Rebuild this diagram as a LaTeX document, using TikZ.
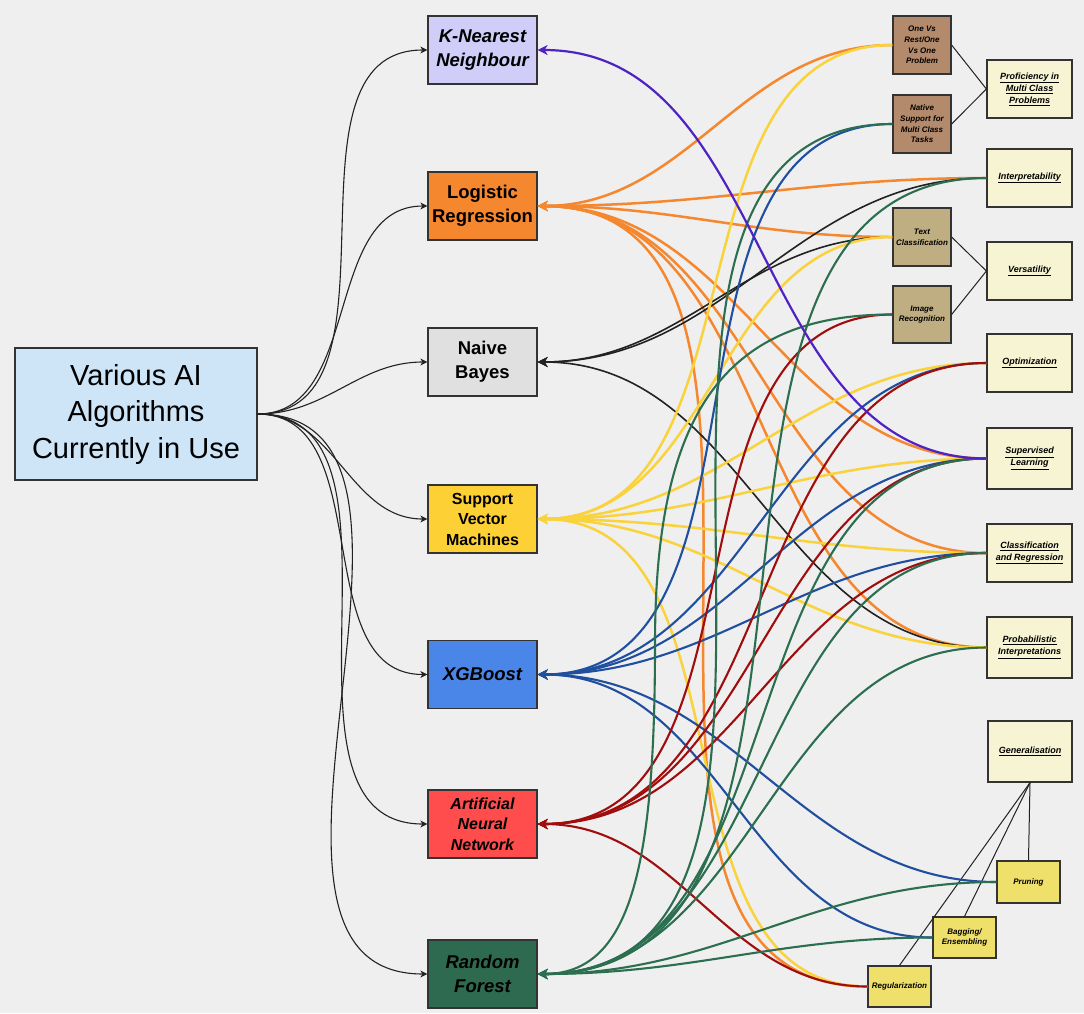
\documentclass[tikz,border=0pt]{standalone}
\usepackage{fontspec}
\setmainfont{Liberation Sans}
\usetikzlibrary{arrows.meta}
\definecolor{bgc}{HTML}{EFEFEF}
\definecolor{boxline}{HTML}{333333}
\definecolor{mainfill}{HTML}{CDE5F7}
\definecolor{knnfill}{HTML}{D0CEF9}
\definecolor{lrfill}{HTML}{F5872F}
\definecolor{nbfill}{HTML}{E0E0E0}
\definecolor{svmfill}{HTML}{FDD035}
\definecolor{xgbfill}{HTML}{4A86E8}
\definecolor{annfill}{HTML}{FF4D4D}
\definecolor{rffill}{HTML}{2E6A4F}
\definecolor{brownfill}{HTML}{B38A6B}
\definecolor{khakifill}{HTML}{BFAE82}
\definecolor{creamfill}{HTML}{F6F4D2}
\definecolor{smallyellow}{HTML}{EFE06C}
\definecolor{cpurple}{HTML}{4F22C4}
\definecolor{corange}{HTML}{F5872F}
\definecolor{cblack}{HTML}{222222}
\definecolor{cyellow}{HTML}{F9D23C}
\definecolor{cblue}{HTML}{214FA0}
\definecolor{cred}{HTML}{A00D0D}
\definecolor{cgreen}{HTML}{2B6E50}
\newcommand{\ulx}[1]{\underline{#1}}
\begin{document}
\begin{tikzpicture}[x=1pt,y=-1pt,
  box/.style={draw=boxline, line width=1.2pt, inner sep=0pt, align=center, text=black},
  mainbox/.style={box, fill=mainfill, minimum width=242pt, minimum height=132pt,
    font=\fontsize{29}{36.5}\selectfont},
  algo/.style={box, minimum width=109pt, minimum height=68pt,
    font=\bfseries\fontsize{18.5}{24}\selectfont},
  algoit/.style={box, minimum width=109pt, minimum height=68pt,
    font=\bfseries\itshape\fontsize{18.5}{24}\selectfont},
  algothree/.style={box, minimum width=109pt, minimum height=68pt,
    font=\bfseries\fontsize{16}{20.5}\selectfont},
  algothreeit/.style={box, minimum width=109pt, minimum height=68pt,
    font=\bfseries\itshape\fontsize{16}{20.5}\selectfont},
  brownbox/.style={box, fill=brownfill, minimum width=58pt, minimum height=58pt,
    font=\bfseries\itshape\fontsize{8}{10.7}\selectfont},
  khakibox/.style={box, fill=khakifill, minimum width=58pt, minimum height=58pt,
    font=\bfseries\itshape\fontsize{8}{10.7}\selectfont},
  creambox/.style={box, fill=creamfill, minimum width=85pt, minimum height=58pt,
    font=\bfseries\itshape\fontsize{9}{12}\selectfont},
  smallbox/.style={box, fill=smallyellow, minimum width=63pt, minimum height=41pt,
    font=\bfseries\itshape\fontsize{8}{10.7}\selectfont},
  tipin/.style={{Stealth[length=10pt,width=10pt,inset=3pt]}-},
  thinarrow/.style={draw=cblack, line width=1.1pt, -{Stealth[length=7pt,width=7pt,inset=2pt]}},
  thinline/.style={draw=cblack, line width=1pt},
  lpurple/.style={tipin, draw=cpurple, line width=2.2pt},
  lorange/.style={tipin, draw=corange, line width=2.5pt},
  lblack/.style={tipin, draw=cblack, line width=1.6pt},
  lyellow/.style={tipin, draw=cyellow, line width=2.5pt},
  lblue/.style={tipin, draw=cblue, line width=2.1pt},
  lred/.style={tipin, draw=cred, line width=2.1pt},
  lgreen/.style={tipin, draw=cgreen, line width=2.1pt}
]
\fill[bgc] (0,0) rectangle (1084,1013);
\useasboundingbox (0,0) rectangle (1084,1013);

% main
\node[mainbox] (main) at (136,414) {Various AI\\Algorithms\\Currently in Use};

% algorithms
\node[algoit, fill=knnfill] (knn) at (482.5,50) {K-Nearest\\Neighbour};
\node[algo, fill=lrfill] (lr) at (482.5,206) {Logistic\\Regression};
\node[algo, fill=nbfill] (nb) at (482.5,362) {Naive\\Bayes};
\node[algothree, fill=svmfill] (svm) at (482.5,519) {Support\\Vector\\Machines};
\node[algoit, fill=xgbfill] (xgb) at (482.5,674.5) {XGBoost};
\node[algothreeit, fill=annfill] (ann) at (482.5,824) {Artificial\\Neural\\Network};
\node[algoit, fill=rffill] (rf) at (482.5,974) {Random\\Forest};

% right nodes
\node[brownbox] (ovr) at (922,45) {One Vs\\Rest/One\\Vs One\\Problem};
\node[brownbox] (nat) at (922,124) {Native\\Support for\\Multi Class\\Tasks};
\node[khakibox] (textc) at (922,237) {Text\\Classification};
\node[khakibox, minimum height=57pt] (img) at (922,314.5) {Image\\Recognition};
\node[creambox] (prof) at (1029.5,89) {\ulx{Proficiency in}\\\ulx{Multi Class}\\\ulx{Problems}};
\node[creambox] (interp) at (1029.5,178) {\ulx{Interpretability}};
\node[creambox] (vers) at (1029.5,271) {\ulx{Versatility}};
\node[creambox] (opt) at (1029.5,363) {\ulx{Optimization}};
\node[creambox, minimum height=61pt] (sup) at (1029.5,458.5) {\ulx{Supervised}\\\ulx{Learning}};
\node[creambox] (clsreg) at (1029.5,553) {\ulx{Classification}\\\ulx{and Regression}};
\node[creambox, minimum height=61pt] (prob) at (1029.5,647.5) {\ulx{Probabilistic}\\\ulx{Interpretations}};
\node[creambox, minimum width=84pt, minimum height=61pt] (gen) at (1030,751.5) {\ulx{Generalisation}};
\node[smallbox, minimum height=42pt] (pru) at (1028.5,882) {Pruning};
\node[smallbox] (bag) at (964.5,937.5) {Bagging/\\Ensembling};
\node[smallbox] (reg) at (899.5,986.5) {Regularization};

% thin links
\draw[thinline] (ovr.east) -- (prof.west);
\draw[thinline] (nat.east) -- (prof.west);
\draw[thinline] (textc.east) -- (vers.west);
\draw[thinline] (img.east) -- (vers.west);
\draw[thinline] (gen.south) -- (pru.north);
\draw[thinline] (gen.south) -- (bag.north);
\draw[thinline] (gen.south) -- (reg.north);

% left arrows
\foreach \a in {knn,lr,nb,svm,xgb,ann,rf}
  \draw[thinarrow] (main.east) to[out=0,in=180] (\a.west);

% coloured connectors
\foreach \t in {ovr,interp,textc,sup,clsreg,prob,reg}
  \draw[lorange] (lr.east) to[out=0,in=180] (\t.west);
\foreach \t in {interp,textc,prob}
  \draw[lblack] (nb.east) to[out=0,in=180] (\t.west);
\foreach \t in {ovr,textc,opt,sup,clsreg,prob,reg}
  \draw[lyellow] (svm.east) to[out=0,in=180] (\t.west);
\foreach \t in {nat,opt,sup,clsreg,pru,bag}
  \draw[lblue] (xgb.east) to[out=0,in=180] (\t.west);
\foreach \t in {img,opt,sup,clsreg,reg}
  \draw[lred] (ann.east) to[out=0,in=180] (\t.west);
\foreach \t in {nat,interp,sup,clsreg,prob,pru,bag}
  \draw[lgreen] (rf.east) to[out=0,in=180] (\t.west);
\coordinate (rfimgmid) at (655,644);
\draw[lgreen] (rf.east) .. controls (630,974) and (655,870) .. (rfimgmid)
  .. controls (655,420) and (720,314) .. (img.west);
\draw[lpurple] (knn.east) to[out=0,in=180] (sup.west);
\end{tikzpicture}
\end{document}
